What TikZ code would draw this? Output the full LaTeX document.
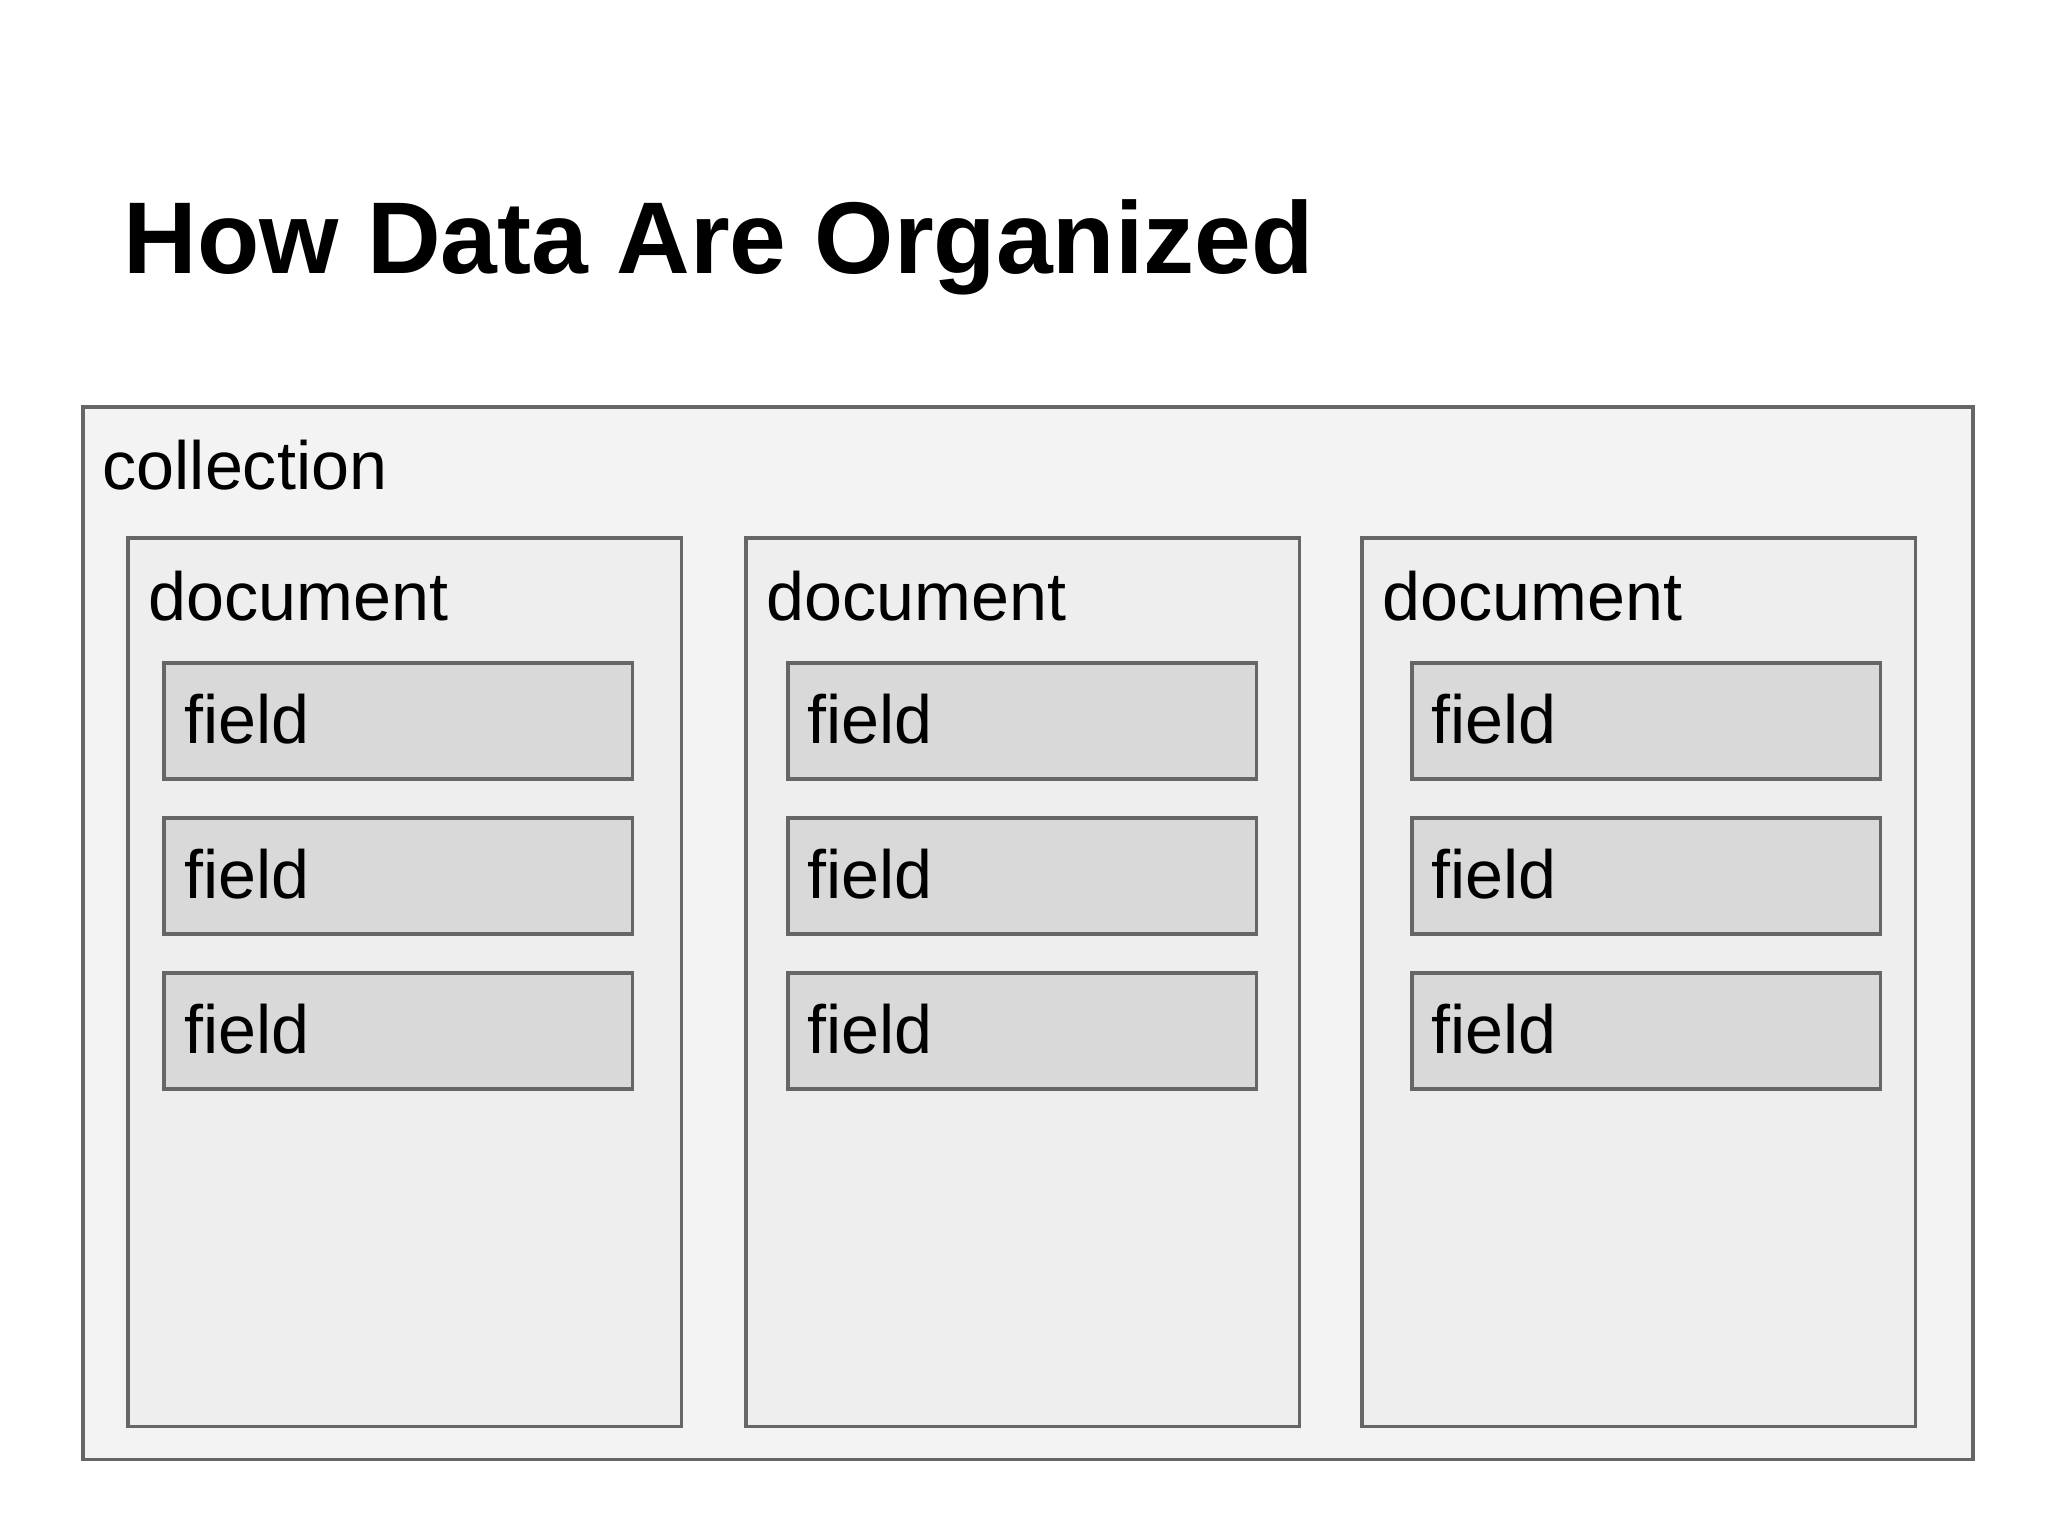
\documentclass[tikz,border=0pt]{standalone}
\usepackage{fontspec}
\setmainfont{Liberation Sans}
\definecolor{collfill}{HTML}{F3F3F3}
\definecolor{docfill}{HTML}{EEEEEE}
\definecolor{fieldfill}{HTML}{D9D9D9}
\definecolor{boxline}{HTML}{666666}
\begin{document}
\begin{tikzpicture}[x=0.01cm, y=-0.01cm,
  box/.style={rectangle, draw=boxline, line width=1pt, inner sep=0, outer sep=0, anchor=north west},
  collbox/.style={box, fill=collfill, minimum width=18.89cm, minimum height=10.52cm},
  docbox/.style={box, fill=docfill, minimum width=5.53cm, minimum height=8.88cm},
  fieldbox/.style={box, fill=fieldfill, minimum width=4.68cm, minimum height=1.16cm},
  lbl/.style={anchor=base west, inner sep=0, font=\fontsize{19.4pt}{23pt}\selectfont}]
\useasboundingbox (0,0) rectangle (2048,1536);
\node[anchor=base west, inner sep=0, font=\fontsize{29pt}{35pt}\selectfont\bfseries] (title) at (123,273) {How Data Are Organized};
% collection
\node[collbox] (coll) at (83,407) {};
\node[lbl] (colltxt) at (102,489) {collection};
% documents
\node[docbox] (doc1) at (128,538) {};
\node[docbox] (doc2) at (746,538) {};
\node[docbox] (doc3) at (1362,538) {};
\node[lbl] (doc1txt) at (148,620) {document};
\node[lbl] (doc2txt) at (766,620) {document};
\node[lbl] (doc3txt) at (1382,620) {document};
% fields
\node[fieldbox] (f11) at (164,663) {};
\node[fieldbox] (f12) at (164,818) {};
\node[fieldbox] (f13) at (164,973) {};
\node[fieldbox] (f21) at (788,663) {};
\node[fieldbox] (f22) at (788,818) {};
\node[fieldbox] (f23) at (788,973) {};
\node[fieldbox] (f31) at (1412,663) {};
\node[fieldbox] (f32) at (1412,818) {};
\node[fieldbox] (f33) at (1412,973) {};
\node[lbl] (f11txt) at (184,743) {field};
\node[lbl] (f12txt) at (184,898) {field};
\node[lbl] (f13txt) at (184,1053) {field};
\node[lbl] (f21txt) at (807,743) {field};
\node[lbl] (f22txt) at (807,898) {field};
\node[lbl] (f23txt) at (807,1053) {field};
\node[lbl] (f31txt) at (1431,743) {field};
\node[lbl] (f32txt) at (1431,898) {field};
\node[lbl] (f33txt) at (1431,1053) {field};
\end{tikzpicture}
\end{document}
